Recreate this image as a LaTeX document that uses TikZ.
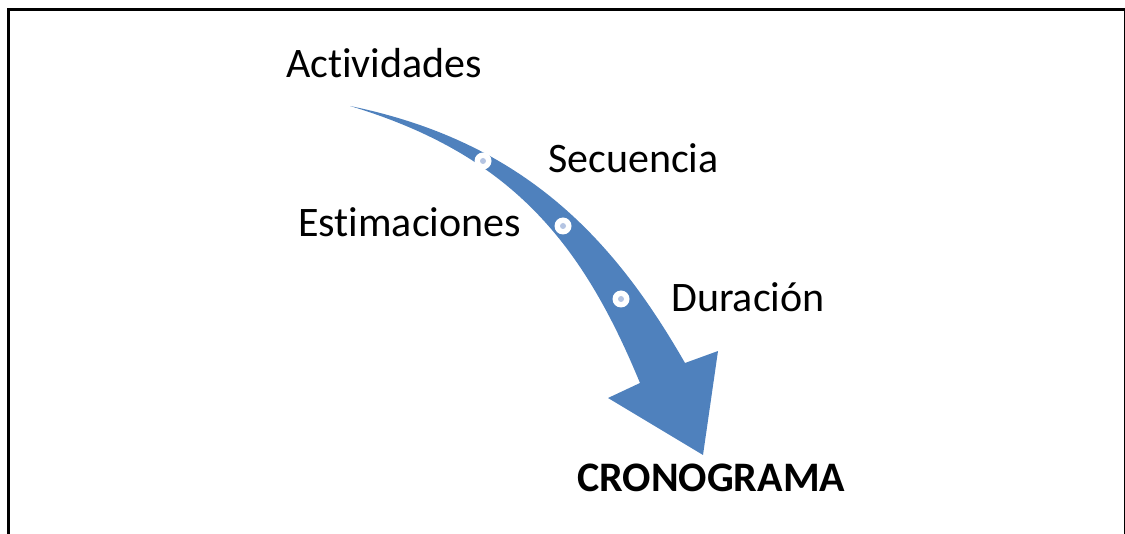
\documentclass[tikz,border=0pt]{standalone}
\usepackage{fontspec}
\setmainfont[Ligatures={NoCommon,NoRare,NoContextual}]{Carlito}
\definecolor{flecha}{HTML}{4F81BD}
\definecolor{punto}{HTML}{B4C4E2}
\begin{document}
\begin{tikzpicture}[x=1pt, y=-1pt,
  etiqueta/.style={anchor=base west, inner sep=0pt, font=\fontsize{42}{50}\selectfont},
  hito/.style={circle, fill=white, minimum size=17pt, inner sep=0pt, path picture={\fill[punto] (path picture bounding box.center) circle (3pt);}}]
\useasboundingbox (0,0) rectangle (1125,534);
\clip (0,0) rectangle (1125,534);
% Marco
\draw[line width=3pt] (8.5,540) -- (8.5,9.5) -- (1125.5,9.5) -- (1125.5,540);
% Flecha curva
\fill[flecha] (350,106) .. controls (526,142) and (615,241) .. (685,363)
  -- (718,351) -- (703,455) -- (608,398) -- (640,383)
  .. controls (583,245) and (513,155) .. (350,106) -- cycle;
% Hitos sobre la flecha
\node[hito] (h1) at (483,161) {};
\node[hito] (h2) at (563,226) {};
\node[hito] (h3) at (621,299) {};
% Textos
\node[etiqueta] (act) at (286,78) {Actividades};
\node[etiqueta] (sec) at (548,173) {Secuencia};
\node[etiqueta] (est) at (298,237) {Estimaciones};
\node[etiqueta] (dur) at (671,312) {Duración};
\node[etiqueta, font=\fontsize{42}{50}\selectfont\bfseries] (cro) at (577,492) {CRONOGRAMA};
\end{tikzpicture}
\end{document}
